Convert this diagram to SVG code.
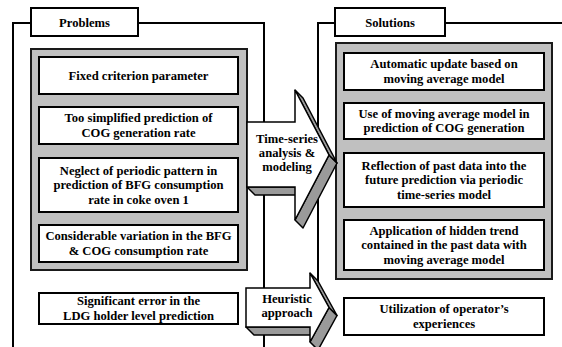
<svg xmlns="http://www.w3.org/2000/svg" width="562" height="347" viewBox="0 0 562 347">
<style>
text{font-family:"Liberation Serif","Times New Roman",serif;font-weight:bold;font-size:12.6px;text-anchor:middle;fill:#000}
.ln{fill:none;stroke:#000;stroke-width:2}
.box{fill:#fff;stroke:#000;stroke-width:2}
.grp{fill:#c0c0c0;stroke:#1a1a1a;stroke-width:2}
.side{fill:#9a9a9a;stroke:#000;stroke-width:1.5;stroke-linejoin:round}
.face{fill:#fff;stroke:#000;stroke-width:1.5;stroke-linejoin:miter}
</style>
<rect width="562" height="347" fill="#fff"/>
<g id="connectors">
<polyline class="ln" points="31,23 13,23 13,347"/>
<polyline class="ln" points="138,23 264,23 264,347"/>
<polyline class="ln" points="335,23 318,23 318,347"/>
<line class="ln" x1="445" y1="23" x2="562" y2="23"/>
</g>
<g id="problems-label"><rect class="box" x="31" y="8" width="107" height="28"/><text x="84.5" y="26.5">Problems</text></g>
<g id="solutions-label"><rect class="box" x="335" y="8" width="110" height="28"/><text x="390" y="26.5">Solutions</text></g>
<g id="problems-group"><rect class="grp" x="31" y="49" width="216" height="221"/></g>
<g id="solutions-group"><rect class="grp" x="336" y="43" width="216" height="236"/></g>
<g id="p1"><rect class="box" x="39" y="57" width="199" height="37"/><text x="138.5" y="79.5">Fixed criterion parameter</text></g>
<g id="p2"><rect class="box" x="39" y="107" width="199" height="37"/><text x="138.5" y="122.25">Too simplified prediction of</text><text x="138.5" y="136.75">COG generation rate</text></g>
<g id="p3"><rect class="box" x="39" y="158" width="199" height="54"/><text x="138.5" y="174.5">Neglect of periodic pattern in</text><text x="138.5" y="189">prediction of BFG consumption</text><text x="138.5" y="203.5">rate in coke oven 1</text></g>
<g id="p4"><rect class="box" x="39" y="225" width="199" height="37"/><text x="138.5" y="240.25">Considerable variation in the BFG</text><text x="138.5" y="254.75">&amp; COG consumption rate</text></g>
<g id="p5"><rect class="box" x="39" y="293" width="199" height="31"/><text x="138.5" y="305.25">Significant error in the</text><text x="138.5" y="319.75">LDG holder level prediction</text></g>
<g id="s1"><rect class="box" x="344" y="53" width="200" height="37"/><text x="444" y="68.25">Automatic update based on</text><text x="444" y="82.75">moving average model</text></g>
<g id="s2"><rect class="box" x="344" y="103" width="200" height="36"/><text x="444" y="117.75">Use of moving average model in</text><text x="444" y="132.25">prediction of COG generation</text></g>
<g id="s3"><rect class="box" x="344" y="153" width="200" height="54"/><text x="444" y="169.5">Reflection of past data into the</text><text x="444" y="184">future prediction via periodic</text><text x="444" y="198.5">time-series model</text></g>
<g id="s4"><rect class="box" x="344" y="220" width="200" height="50"/><text x="444" y="234.5">Application of hidden trend</text><text x="444" y="249">contained in the past data with</text><text x="444" y="263.5">moving average model</text></g>
<g id="s5"><rect class="box" x="344" y="298" width="200" height="37"/><text x="444" y="313.25">Utilization of operator’s</text><text x="444" y="327.75">experiences</text></g>
<g id="arrow-timeseries">
<polygon class="side" points="247,187 295,187 303,195 255,195"/>
<polygon class="side" points="329,155 295,220 303,228 337,163"/>
<polygon class="side" points="295,90 329,155 337,163 303,98"/>
<polygon class="face" points="247,122 295,122 295,90 329,155 295,220 295,187 247,187"/>
<text x="287" y="143">Time-series</text><text x="287" y="157">analysis &amp;</text><text x="287" y="171">modeling</text>
</g>
<g id="arrow-heuristic">
<polygon class="side" points="246,327 310,327 318,335 254,335"/>
<polygon class="side" points="329,307.5 310,342 318,350 337,315.5"/>
<polygon class="side" points="310,273 329,307.5 337,315.5 318,281"/>
<polygon class="face" points="246,288 310,288 310,273 329,307.5 310,342 310,327 246,327"/>
<text x="287" y="303">Heuristic</text><text x="287" y="317">approach</text>
</g>
</svg>
